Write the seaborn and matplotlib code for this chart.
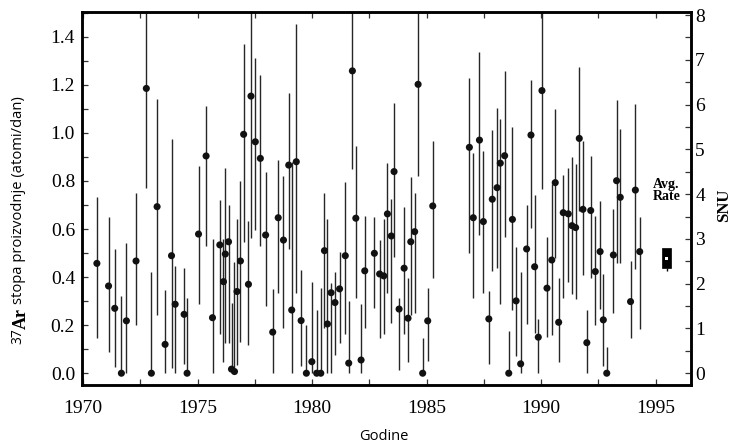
import matplotlib
matplotlib.use("Agg")
import matplotlib.pyplot as plt
import seaborn as sns
import pandas as pd
from matplotlib.ticker import MultipleLocator

# ---- data (atoms/day) ----
years = [1970.60, 1971.11, 1971.38, 1971.67, 1971.89, 1972.31, 1972.76, 1972.98, 1973.23, 1973.58,
         1973.86, 1974.02, 1974.41, 1974.54, 1975.04, 1975.37, 1975.65, 1975.97, 1976.13, 1976.21,
         1976.35, 1976.48, 1976.61, 1976.72, 1976.87, 1977.01, 1977.22, 1977.33, 1977.52, 1977.74,
         1977.97, 1978.28, 1978.52, 1978.75, 1978.98, 1979.11, 1979.31, 1979.52, 1979.75, 1979.99,
         1980.20, 1980.38, 1980.54, 1980.67, 1980.83, 1981.00, 1981.20, 1981.45, 1981.60, 1981.76,
         1981.91, 1982.14, 1982.30, 1982.72, 1982.95, 1983.13, 1983.29, 1983.46, 1983.58, 1983.80,
         1984.02, 1984.19, 1984.31, 1984.48, 1984.63, 1984.83, 1985.05, 1985.27, 1986.87, 1987.04,
         1987.31, 1987.48, 1987.72, 1987.87, 1988.08, 1988.22, 1988.41, 1988.59, 1988.75, 1988.91,
         1989.11, 1989.37, 1989.56, 1989.72, 1989.88, 1990.04, 1990.26, 1990.47, 1990.62, 1990.77,
         1990.97, 1991.19, 1991.35, 1991.51, 1991.67, 1991.83, 1992.00, 1992.17, 1992.37, 1992.58,
         1992.72, 1992.87, 1993.16, 1993.30, 1993.46, 1993.91, 1994.12, 1994.31]
rate = [0.457, 0.363, 0.270, 0.0, 0.218, 0.467, 1.185, 0.0, 0.693, 0.120,
        0.489, 0.287, 0.245, 0.0, 0.579, 0.904, 0.231, 0.534, 0.381, 0.496,
        0.547, 0.017, 0.007, 0.340, 0.467, 0.994, 0.370, 1.153, 0.963, 0.894,
        0.575, 0.171, 0.647, 0.554, 0.866, 0.263, 0.880, 0.219, 0.0, 0.048,
        0.0, 0.0, 0.510, 0.205, 0.335, 0.294, 0.351, 0.489, 0.042, 1.258,
        0.645, 0.055, 0.426, 0.499, 0.413, 0.405, 0.663, 0.571, 0.839, 0.267,
        0.437, 0.229, 0.547, 0.589, 1.202, 0.0, 0.218, 0.696, 0.940, 0.647,
        0.970, 0.631, 0.226, 0.724, 0.772, 0.874, 0.905, 0.0, 0.640, 0.301,
        0.039, 0.517, 0.991, 0.443, 0.150, 1.176, 0.354, 0.471, 0.793, 0.212,
        0.668, 0.663, 0.614, 0.606, 0.977, 0.682, 0.127, 0.677, 0.423, 0.506,
        0.222, 0.0, 0.492, 0.801, 0.732, 0.298, 0.762, 0.506]
rate_lo = [0.146, 0.090, 0.027, 0.0, 0.0, 0.200, 0.770, 0.0, 0.243, 0.0,
           0.020, 0.0, 0.040, 0.0, 0.287, 0.530, 0.0, 0.162, 0.048, 0.125,
           0.127, 0.0, 0.0, 0.035, 0.131, 0.547, 0.118, 0.561, 0.596, 0.530,
           0.280, 0.0, 0.335, 0.187, 0.516, 0.0, 0.333, 0.030, 0.0, 0.0,
           0.0, 0.0, 0.187, 0.0, 0.0, 0.076, 0.125, 0.162, 0.0, 0.848,
           0.315, 0.0, 0.187, 0.270, 0.146, 0.162, 0.333, 0.211, 0.482, 0.014,
           0.163, 0.048, 0.243, 0.250, 0.821, 0.0, 0.051, 0.395, 0.499, 0.315,
           0.575, 0.335, 0.037, 0.426, 0.439, 0.287, 0.568, 0.0, 0.263, 0.072,
           0.0, 0.205, 0.603, 0.166, 0.0, 0.765, 0.150, 0.157, 0.478, 0.048,
           0.315, 0.378, 0.328, 0.309, 0.675, 0.409, 0.0, 0.395, 0.200, 0.266,
           0.030, 0.0, 0.250, 0.460, 0.457, 0.146, 0.433, 0.183]
rate_hi = [0.735, 0.651, 0.516, 0.320, 0.540, 0.749, 1.600, 0.423, 1.140, 0.347,
           0.973, 0.446, 0.437, 0.312, 0.862, 1.112, 0.560, 0.720, 0.557, 0.855,
           0.700, 0.294, 0.464, 0.640, 0.800, 1.369, 0.634, 1.750, 1.310, 1.241,
           0.839, 0.349, 0.887, 0.821, 1.167, 0.880, 1.453, 0.430, 0.200, 0.381,
           0.263, 0.354, 0.751, 0.640, 0.375, 0.423, 0.506, 0.797, 0.300, 1.670,
           0.946, 0.287, 0.654, 0.651, 0.554, 0.640, 0.874, 0.724, 1.123, 0.312,
           0.690, 0.398, 0.818, 0.751, 1.580, 0.146, 0.356, 0.966, 1.230, 0.915,
           1.338, 0.925, 0.342, 1.012, 1.105, 1.058, 1.259, 0.176, 1.026, 0.527,
           0.423, 0.700, 1.220, 0.742, 0.225, 1.590, 0.568, 0.787, 1.099, 0.398,
           0.825, 0.855, 0.901, 0.869, 1.273, 0.968, 0.263, 0.904, 0.654, 0.717,
           0.412, 0.111, 0.682, 1.137, 1.015, 0.468, 1.119, 0.651]

# average rate (SNU)
avg_year = 1995.48
avg_snu = 2.56
avg_box_lo = 2.34
avg_box_hi = 2.79
avg_whisker_lo = 2.28

snu_per_unit = 0.18627  # atoms/day per SNU (axis scale)

x_ticks = [1970, 1975, 1980, 1985, 1990, 1995]

df = pd.DataFrame({"year": years, "rate": rate, "lo": rate_lo, "hi": rate_hi})

sns.set_style("ticks")
serif = ["Liberation Serif", "DejaVu Serif"]
sans = ["Open Sans", "DejaVu Sans"]
plt.rcParams["font.family"] = serif
plt.rcParams["text.color"] = "black"
plt.rcParams["axes.edgecolor"] = "black"
plt.rcParams["xtick.color"] = "#333333"
plt.rcParams["ytick.color"] = "#333333"
plt.rcParams["xtick.labelcolor"] = "black"
plt.rcParams["ytick.labelcolor"] = "black"

W, H = 731, 446
fig = plt.figure(figsize=(W / 100, H / 100), dpi=100)
ax = fig.add_axes([82 / W, 1 - 385 / H, (691 - 82) / W, (385 - 12) / H])

ax.vlines(df["year"], df["lo"], df["hi"], color="#262626", linewidth=1.0, zorder=2)
sns.scatterplot(data=df, x="year", y="rate", ax=ax, color="#111111", s=26,
                edgecolor="none", zorder=3, legend=False)

ylim = (-0.049, 1.503)
ax.set_xlim(1969.95, 1996.55)
ax.set_ylim(*ylim)
ax.set_xticks(x_ticks)
ax.set_xticklabels([str(t) for t in x_ticks])
ax.xaxis.set_minor_locator(MultipleLocator(2.5))
ax.yaxis.set_major_locator(MultipleLocator(0.2))
ax.yaxis.set_minor_locator(MultipleLocator(0.1))
ax.yaxis.set_major_formatter(matplotlib.ticker.FormatStrFormatter("%.1f"))
ax.set_xlabel("")
ax.set_ylabel("")

for s in ax.spines.values():
    s.set_linewidth(1.8)
    s.set_color("black")

ax.tick_params(axis="both", which="both", direction="in", top=True, right=False,
               width=0.9, length=4)
ax.tick_params(axis="x", which="major", labelsize=14, pad=11)
ax.tick_params(axis="y", which="major", labelsize=14, pad=5)

ax2 = ax.twinx()
ax2.set_ylim(ylim[0] / snu_per_unit, ylim[1] / snu_per_unit)
ax2.yaxis.set_major_locator(MultipleLocator(1))
ax2.yaxis.set_minor_locator(MultipleLocator(0.5))
ax2.tick_params(axis="y", which="both", direction="in", length=4, width=0.9,
                labelsize=14, pad=3)
for s in ax2.spines.values():
    s.set_linewidth(1.8)
    s.set_color("black")

ax2.bar([avg_year], [avg_box_hi - avg_box_lo], bottom=[avg_box_lo], width=0.4,
        color="black", edgecolor="black", linewidth=0.5, zorder=3)
ax2.vlines([avg_year], avg_whisker_lo, avg_box_lo, color="black", linewidth=1.0)
ax2.scatter([avg_year], [avg_snu], marker="s", s=6, color="white",
            edgecolor="none", zorder=4)
ax2.text(avg_year, 4.08, "Avg.\nRate", ha="center", va="center", fontsize=10,
         fontweight="bold", linespacing=0.95, family=serif)

# labels
fig.text(384 / W, 1 - 437 / H, "Godine", ha="center", va="center",
         fontsize=10.5, family=sans)
fig.text(724 / W, 1 - 205 / H, "SNU", ha="center", va="center", rotation=90,
         fontsize=12, fontweight="bold", family=serif)
fig.text(18 / W, 1 - 344 / H, "37", ha="center", va="bottom", rotation=90,
         fontsize=10, family=sans)
fig.text(21 / W, 1 - 329 / H, "Ar", ha="center", va="bottom", rotation=90,
         fontsize=13, fontweight="bold", family=serif)
fig.text(19 / W, 1 - 304 / H, "stopa proizvodnje (atomi/dan)", ha="center",
         va="bottom", rotation=90, fontsize=10.6, family=sans)

fig.savefig("out.png", dpi=100)
